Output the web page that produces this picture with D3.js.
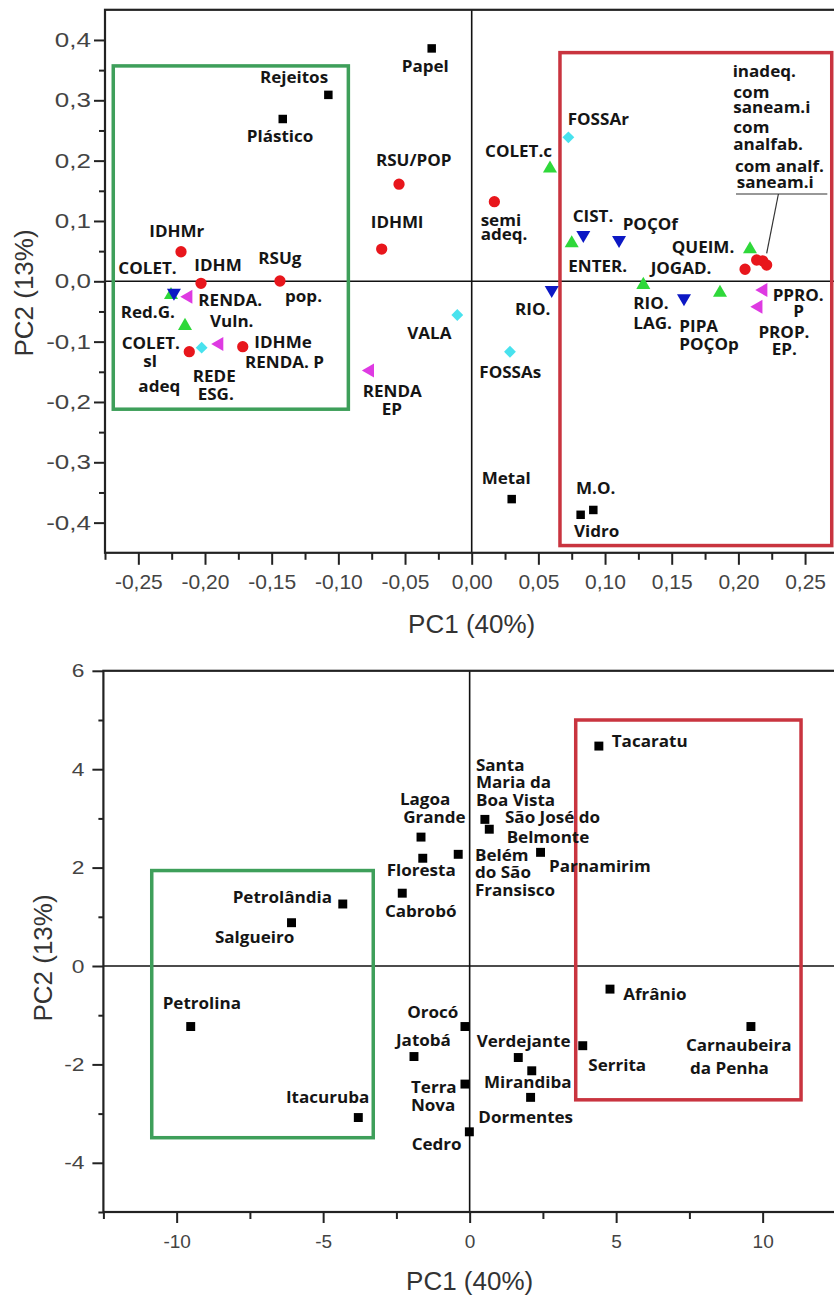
<!DOCTYPE html>
<html><head><meta charset="utf-8">
<script src="https://cdn.jsdelivr.net/npm/d3@7"></script>
<style>body{margin:0;background:#fff}svg{display:block}</style>
</head><body>
<svg id="chart" width="834" height="1297"></svg>
<script>
// ---------- TOP CHART DATA (variable loadings) ----------
const topWaste   = [["Papel",-0.030,0.386],["Rejeitos",-0.1075,0.309],["Plástico",-0.1417,0.269],["Metal",0.030,-0.361],["M.O.",0.0912,-0.379],["Vidro",0.0817,-0.387]];
const topSocial  = [["RSU/POP",-0.0545,0.161],["IDHMl",-0.0675,0.0535],["IDHMr",-0.218,0.049],["IDHM",-0.203,-0.0033],["RSUg pop.",-0.1438,0.0005],["COLET. sl adeq",-0.2118,-0.1167],["IDHMe",-0.1717,-0.1084],["semi adeq.",0.017,0.132],["inadeq.",0.205,0.020],["com saneam.i",0.2137,0.0353],["com analfab.",0.2182,0.034],["com analf. saneam.i",0.2212,0.027]];
const topWasteDest = [["COLET.c",0.0587,0.187],["ENTER.",0.075,0.063],["QUEIM.",0.2087,0.053],["RIO. LAG.",0.1287,-0.006],["JOGAD.",0.1862,-0.019],["Red.G.",-0.215,-0.074],["COLET.",-0.2255,-0.0227]];
const topWater   = [["COLET.",-0.2233,-0.019],["CIST.",0.0837,0.0767],["POÇOf",0.1105,0.0684],["RIO.",0.060,-0.0144],["PIPA POÇOp",0.1592,-0.028]];
const topIncome  = [["RENDA. Vuln.",-0.2125,-0.0255],["RENDA. P",-0.1893,-0.104],["RENDA EP",-0.0763,-0.148],["PPRO. P",0.2187,-0.0144],["PROP. EP.",0.215,-0.042]];
const topSewage  = [["FOSSAr",0.0725,0.2386],["VALA",-0.0108,-0.0559],["FOSSAs",0.0287,-0.1167],["REDE ESG.",-0.2025,-0.110]];
// label anchors (data units: left, baseline)
const topLabels = [["Rejeitos",-0.1588,0.328],["Plástico",-0.1687,0.2314],["Papel",-0.0525,0.3474],["RSU/POP",-0.0718,0.1916],["IDHMl",-0.0757,0.0888],
 ["IDHMr",-0.2418,0.0739],["COLET.",-0.265,0.0121],["IDHM",-0.208,0.0176],["RSUg",-0.160,0.0282],["RENDA.",-0.205,-0.0409],["pop.",-0.140,-0.0338],
 ["Red.G.",-0.2632,-0.0613],["Vuln.",-0.1963,-0.0762],["COLET.",-0.2625,-0.1127],["IDHMe",-0.163,-0.111],["sl",-0.2463,-0.1415],["RENDA. P",-0.170,-0.1442],
 ["REDE",-0.2092,-0.1674],["adeq",-0.250,-0.183],["ESG.",-0.2055,-0.1967],["RENDA",-0.0817,-0.1913],["EP",-0.0675,-0.2216],
 ["FOSSAr",0.072,0.259],["COLET.c",0.010,0.2065],["semi",0.0067,0.0916],["adeq.",0.0067,0.0684],["CIST.",0.0757,0.0988],["POÇOf",0.1132,0.085],
 ["QUEIM.",0.150,0.0464],["ENTER.",0.0724,0.0159],["JOGAD.",0.1342,0.0116],
 ["inadeq.",0.1957,0.339],["com",0.1962,0.3033],["saneam.i",0.1962,0.2794],["com",0.1962,0.2463],["analfab.",0.1962,0.2176],["com analf.",0.1975,0.1816],["saneam.i",0.1987,0.1541],
 ["RIO.",0.0325,-0.0559],["VALA",-0.0483,-0.0961],["FOSSAs",0.0057,-0.1608],["RIO.",0.1212,-0.0464],["LAG.",0.1212,-0.0795],["PIPA",0.1557,-0.0835],["POÇOp",0.1557,-0.1139],
 ["PPRO.",0.2257,-0.0322],["P",0.2412,-0.0597],["PROP.",0.215,-0.0945],["EP.",0.225,-0.1221],
 ["Metal",0.0075,-0.3364],["M.O.",0.0782,-0.353],["Vidro",0.0767,-0.4233]];
const topLeader = [[[0.1982,0.1447],[0.2667,0.1447]],[[0.230,0.1447],[0.2212,0.0464]]];
const topBoxes = [[-0.2688,-0.0925,0.357,-0.212,"green"],[0.0662,0.270,0.379,-0.438,"red"]];
const topXTicks = [-0.25,-0.20,-0.15,-0.10,-0.05,0,0.05,0.10,0.15,0.20,0.25];
const topXMinor = [-0.275,-0.225,-0.175,-0.125,-0.075,-0.025,0.025,0.075,0.125,0.175,0.225,0.275];
const topYTicks = [-0.4,-0.3,-0.2,-0.1,0,0.1,0.2,0.3,0.4];
const topYMinor = [-0.35,-0.25,-0.15,-0.05,0.05,0.15,0.25,0.35];

// ---------- BOTTOM CHART DATA (municipality scores) ----------
const towns = [["Tacaratu",4.41,4.47],["Santa Maria da Boa Vista",0.52,2.98],["São José do Belmonte",0.67,2.78],["Parnamirim",2.42,2.31],
 ["Belém do São Fransisco",-0.39,2.27],["Lagoa Grande",-1.66,2.62],["Floresta",-1.60,2.19],["Cabrobó",-2.30,1.48],["Petrolândia",-4.33,1.26],
 ["Salgueiro",-6.08,0.88],["Petrolina",-9.52,-1.23],["Itacuruba",-3.80,-3.08],["Orocó",-0.16,-1.23],["Jatobá",-1.90,-1.84],["Terra Nova",-0.16,-2.40],
 ["Cedro",-0.01,-3.37],["Verdejante",1.66,-1.86],["Mirandiba",2.12,-2.13],["Dormentes",2.08,-2.67],["Afrânio",4.79,-0.47],["Serrita",3.86,-1.62],
 ["Carnaubeira da Penha",9.60,-1.23]];
const botLabels = [["Tacaratu",4.85,4.457],["Santa",0.215,3.97],["Maria da",0.215,3.612],["Boa Vista",0.215,3.252],["São José do",1.205,2.913],["Belmonte",1.263,2.506],
 ["Lagoa",-2.379,3.272],["Grande",-2.266,2.913],["Floresta",-2.833,1.835],["Belém",0.181,2.134],["do São",0.181,1.783],["Fransisco",0.181,1.429],
 ["Parnamirim",2.706,1.917],["Cabrobó",-2.891,1.002],["Petrolândia",-8.089,1.287],["Salgueiro",-8.693,0.461],["Petrolina",-10.478,-0.88],["Itacuruba",-6.27,-2.778],
 ["Orocó",-2.13,-1.051],["Jatobá",-2.515,-1.62],["Terra",-2.003,-2.587],["Nova",-2.003,-2.941],["Cedro",-1.98,-3.74],["Verdejante",0.239,-1.652],
 ["Mirandiba",0.488,-2.486],["Dormentes",0.294,-3.185],["Serrita",4.048,-2.128],["Afrânio",5.242,-0.691],["Carnaubeira",7.382,-1.722],["da Penha",7.519,-2.201]];
const botBoxes = [[-10.85,-3.29,1.94,-3.49,"green"],[3.62,11.31,5.0,-2.72,"red"]];
const botXTicks = [-10,-5,0,5,10];
const botXMinor = [-12.5,-7.5,-2.5,2.5,7.5,12.5];
const botYTicks = [-4,-2,0,2,4,6];
const botYMinor = [-5,-3,-1,1,3,5];

// ---------- DRAWING ----------
const svg = d3.select("#chart");
const boxColor = {green:"#3e9f5a", red:"#c9343f"};
const LBL_FONT = "'Open Sans', sans-serif";
const fmtComma = (f) => d => f(d).replace("−","-").replace(".",",");

function frame(g, x, y, xT, xM, yT, yM, xf, yf, opt){
  const [x0,x1] = x.range(), [y0,y1] = y.range();
  const ax = g.append("g").attr("transform",`translate(0,${y0})`)
    .call(d3.axisBottom(x).tickValues(xT).tickSize(opt.xMaj).tickPadding(opt.xPad).tickFormat(xf));
  ax.select(".domain").remove();
  ax.selectAll("line").attr("stroke","#222").attr("stroke-width",2);
  ax.selectAll("text").attr("font-family","'Liberation Sans', Arial, sans-serif").attr("font-size",opt.xFs).attr("fill","#444");
  const axm = g.append("g").attr("transform",`translate(0,${y0})`)
    .call(d3.axisBottom(x).tickValues(xM).tickSize(opt.xMin).tickFormat(""));
  axm.select(".domain").remove();
  axm.selectAll("line").attr("stroke","#222").attr("stroke-width",2);
  const ay = g.append("g").attr("transform",`translate(${x0},0)`)
    .call(d3.axisLeft(y).tickValues(yT).tickSize(opt.yMaj).tickPadding(opt.yPad).tickFormat(yf));
  ay.select(".domain").remove();
  ay.selectAll("line").attr("stroke","#222").attr("stroke-width",2);
  ay.selectAll("text").attr("font-family","'Liberation Sans', Arial, sans-serif").attr("font-size",opt.yFs).attr("fill","#444")
    .attr("x", -(opt.yMaj+opt.yPad)/opt.yStretch).attr("transform",`scale(${opt.yStretch},1)`);
  const aym = g.append("g").attr("transform",`translate(${x0},0)`)
    .call(d3.axisLeft(y).tickValues(yM).tickSize(opt.yMin).tickFormat(""));
  aym.select(".domain").remove();
  aym.selectAll("line").attr("stroke","#222").attr("stroke-width",2);
  g.append("line").attr("x1",x(0)).attr("x2",x(0)).attr("y1",y0).attr("y2",y1).attr("stroke","#111").attr("stroke-width",1.6);
  g.append("line").attr("x1",x0).attr("x2",x1).attr("y1",y(0)).attr("y2",y(0)).attr("stroke","#111").attr("stroke-width",1.6);
  g.append("rect").attr("x",x0).attr("y",y1).attr("width",x1-x0).attr("height",y0-y1)
    .attr("fill","none").attr("stroke","#222").attr("stroke-width",2.2);
}
function boxes(g,x,y,data){
  g.selectAll(null).data(data).join("rect")
    .attr("x",d=>x(d[0])).attr("y",d=>y(d[2])).attr("width",d=>x(d[1])-x(d[0])).attr("height",d=>y(d[3])-y(d[2]))
    .attr("fill","none").attr("stroke",d=>boxColor[d[4]]).attr("stroke-width",3.5);
}
function points(g,x,y,data,type,size,color,rot){
  g.selectAll(null).data(data).join("path")
    .attr("d",d3.symbol(type,size))
    .attr("transform",d=>`translate(${x(d[1])},${y(d[2])}) rotate(${rot})`)
    .attr("fill",color);
}
function labels(g,x,y,data){
  g.selectAll(null).data(data).join("text")
    .attr("transform",d=>`translate(${x(d[1])},${y(d[2])}) scale(1.1,1)`)
    .attr("font-family",LBL_FONT).attr("font-weight",700).attr("font-size",15.5).attr("fill","#151515")
    .text(d=>d[0]);
}
function titles(g,x,y,xt,yt){
  g.append("text").attr("x",xt[0]).attr("y",xt[1]).attr("text-anchor","middle")
    .attr("font-family","'Liberation Sans', Arial, sans-serif").attr("font-size",26).attr("fill","#333").text("PC1 (40%)");
  g.append("text").attr("transform",`translate(${yt[0]},${yt[1]}) rotate(-90)`).attr("text-anchor","middle")
    .attr("font-family","'Liberation Sans', Arial, sans-serif").attr("font-size",26).attr("fill","#333").text("PC2 (13%)");
}

// TOP
const xT = d3.scaleLinear([-0.275,0.275],[105,838.4]);
const yT = d3.scaleLinear([-0.45,0.45],[552.8,9.8]);
const gT = svg.append("g");
frame(gT,xT,yT,topXTicks,topXMinor,topYTicks,topYMinor,fmtComma(d3.format(".2f")),fmtComma(d3.format(".1f")),
  {xMaj:12,xMin:7,xPad:9,xFs:21,yMaj:11,yMin:6,yPad:3,yFs:20,yStretch:1.3});
boxes(gT,xT,yT,topBoxes);
points(gT,xT,yT,topWaste,d3.symbolSquare,72,"#000",0);
points(gT,xT,yT,topSocial,d3.symbolCircle,100,"#e8161c",0);
points(gT,xT,yT,topWasteDest,d3.symbolTriangle,85,"#2fd83a",0);
points(gT,xT,yT,topWater,d3.symbolTriangle,85,"#0c18c4",180);
points(gT,xT,yT,topIncome,d3.symbolTriangle,85,"#de3ae2",-90);
points(gT,xT,yT,topSewage,d3.symbolSquare,70,"#48e2ee",45);
gT.selectAll(null).data(topLeader).join("line")
  .attr("x1",d=>xT(d[0][0])).attr("y1",d=>yT(d[0][1])).attr("x2",d=>xT(d[1][0])).attr("y2",d=>yT(d[1][1]))
  .attr("stroke","#333").attr("stroke-width",1.2);
labels(gT,xT,yT,topLabels);
titles(gT,xT,yT,[(xT.range()[0]+xT.range()[1])/2,633],[33,293]);

// BOTTOM
const xB = d3.scaleLinear([-12.5,12.5],[103.4,835.9]);
const yB = d3.scaleLinear([-5,6],[1212,670.8]);
const gB = svg.append("g");
frame(gB,xB,yB,botXTicks,botXMinor,botYTicks,botYMinor,d=>String(d).replace("−","-"),d=>String(d).replace("−","-"),
  {xMaj:11,xMin:7,xPad:12,xFs:19,yMaj:11,yMin:5,yPad:8,yFs:19,yStretch:1.2});
boxes(gB,xB,yB,botBoxes);
points(gB,xB,yB,towns,d3.symbolSquare,80,"#000",0);
labels(gB,xB,yB,botLabels);
titles(gB,xB,yB,[(xB.range()[0]+xB.range()[1])/2,1290],[52,958]);
</script>
</body></html>
